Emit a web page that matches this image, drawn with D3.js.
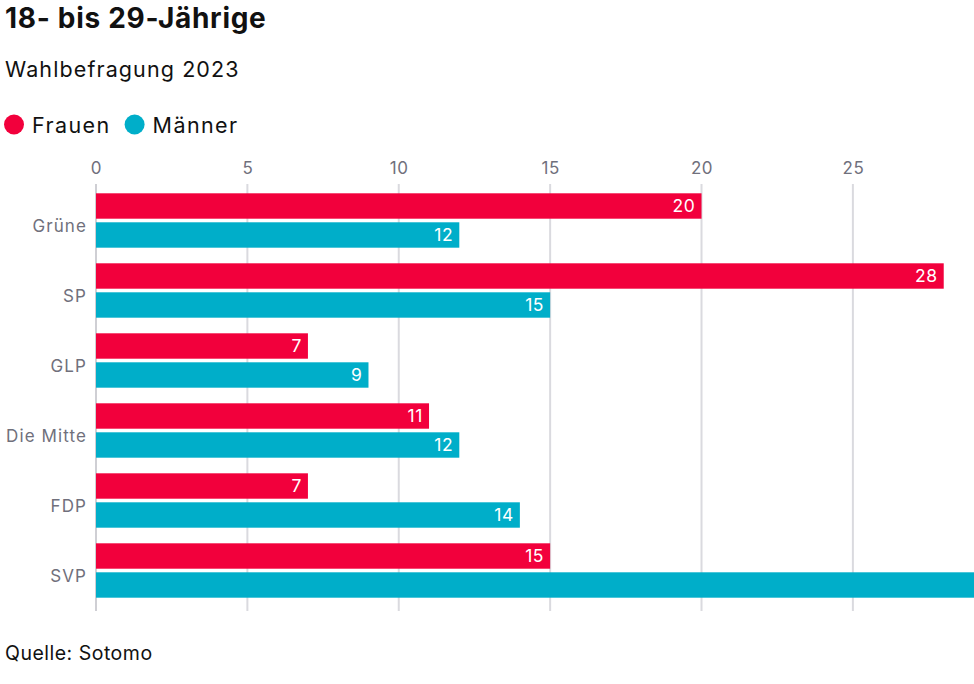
<!DOCTYPE html>
<html><head><meta charset="utf-8">
<script src="https://cdn.jsdelivr.net/npm/d3@7"></script>
<style>
body{margin:0;background:#fff;font-family:Inter,"Noto Sans",sans-serif;}
svg{display:block}
</style></head><body>
<svg id="c" width="974" height="684"></svg>
<script>
const categories = ["Grüne","SP","GLP","Die Mitte","FDP","SVP"];
const seriesNames = ["Frauen","Männer"];
const frauen = [20,28,7,11,7,15];
const maenner = [12,15,9,12,14,35];
const xTicks = [0,5,10,15,20,25];
const colors = ["#f2003c","#00aec9"];

const svg = d3.select("#c");
const mLeft = 96, mRight = 974, mTop = 184, mBottom = 611;
const x = d3.scaleLinear().domain([0,29]).range([mLeft,mRight]);
const y0 = d3.scaleBand().domain(categories).range([183.5, 607.5]).paddingInner(0.223).paddingOuter(0.14);
const y1 = d3.scaleBand().domain(seriesNames).range([0, y0.bandwidth()]).paddingInner(0.124);

svg.append("text").attr("x",5).attr("y",28).text("18- bis 29-Jährige")
  .attr("font-size",28).attr("letter-spacing",0.7).attr("font-weight",700).attr("fill","#111");
svg.append("text").attr("x",5).attr("y",77).text("Wahlbefragung 2023")
  .attr("font-size",21.5).attr("letter-spacing",1.1).attr("fill","#111");

const lg = svg.append("g");
let lx = 4;
seriesNames.forEach((s,i)=>{
  lg.append("circle").attr("cx",lx+10).attr("cy",124.5).attr("r",10).attr("fill",colors[i]);
  const t = lg.append("text").attr("x",lx+28).attr("y",133).text(s).attr("font-size",21.5)
    .attr("letter-spacing",1.4).attr("fill","#111");
  lx += 28 + t.node().getComputedTextLength() + 14;
});

const xAxis = d3.axisTop(x).tickValues(xTicks).tickSize(0).tickFormat(d3.format("d"));
const gx = svg.append("g").attr("transform",`translate(0,${177})`).call(xAxis);
gx.select(".domain").remove();
gx.selectAll("text").attr("font-size",17).attr("letter-spacing",0.6).attr("fill","#70707c")
  .attr("font-family","Inter,sans-serif").attr("dy",0);
svg.append("g").selectAll("line").data(xTicks).join("line")
  .attr("x1",d=>x(d)).attr("x2",d=>x(d)).attr("y1",mTop).attr("y2",mBottom)
  .attr("stroke",d=>d===0?"#cfcfd4":"#dadadf").attr("stroke-width",2);

const data = categories.map((c,i)=>({cat:c, vals:[frauen[i],maenner[i]]}));
const g = svg.append("g");
const groups = g.selectAll("g").data(data).join("g").attr("transform",d=>`translate(0,${y0(d.cat)})`);
groups.selectAll("rect").data(d=>d.vals.map((v,i)=>({v,s:seriesNames[i],i}))).join("rect")
  .attr("x",x(0)).attr("y",d=>y1(d.s)).attr("height",y1.bandwidth())
  .attr("width",d=>Math.min(x(d.v),mRight)-x(0)).attr("fill",d=>colors[d.i]);
groups.selectAll("text.v").data(d=>d.vals.map((v,i)=>({v,s:seriesNames[i],i})).filter(d=>x(d.v)<=mRight)).join("text")
  .attr("class","v").attr("x",d=>x(d.v)-6).attr("y",d=>y1(d.s)+y1.bandwidth()/2+6.5)
  .attr("text-anchor","end").attr("font-size",17.5).attr("letter-spacing",0.6).attr("fill","#fff").text(d=>d.v);
groups.append("text").attr("x",87).attr("y",y0.bandwidth()/2+11.5).attr("text-anchor","end")
  .attr("font-size",17).attr("letter-spacing",1.1).attr("fill","#70707c").text(d=>d.cat);

svg.append("text").attr("x",5).attr("y",660).text("Quelle: Sotomo").attr("font-size",19.5)
  .attr("letter-spacing",0.5).attr("fill","#111");
</script></body></html>
